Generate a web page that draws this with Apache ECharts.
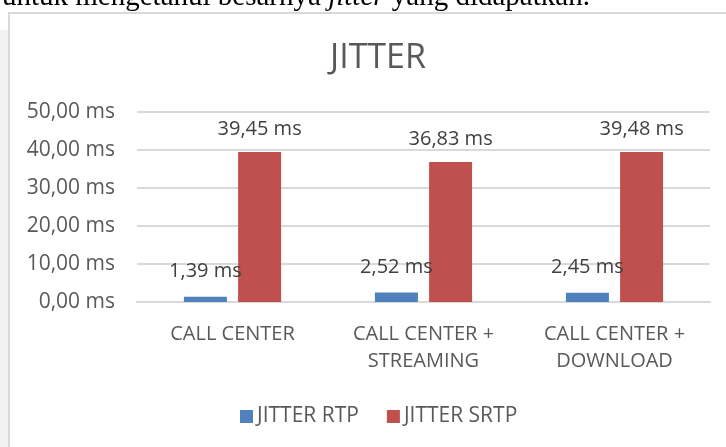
<!DOCTYPE html>
<html>
<head>
<meta charset="UTF-8">
<title>JITTER</title>
<script src="https://cdn.jsdelivr.net/npm/echarts@6/dist/echarts.min.js"></script>
<style>
  html, body { margin: 0; padding: 0; background: #fff; }
  #main { width: 726px; height: 447px; }
</style>
</head>
<body>
<div id="main"></div>
<script type="text/javascript">
    // data
    var categories = ['CALL CENTER', 'CALL CENTER +\nSTREAMING', 'CALL CENTER +\nDOWNLOAD'];
    var jitterRtp = [1.39, 2.52, 2.45];
    var jitterSrtp = [39.45, 36.83, 39.48];
    var seriesNames = ['JITTER RTP', 'JITTER SRTP'];

    var font = '"Open Sans", "Liberation Sans", sans-serif';
    var txt = '#595959';

    function ms(v) {
        return v.toFixed(2).replace('.', ',') + ' ms';
    }

    var myChart = echarts.init(document.getElementById('main'));
    var option = {
        animation: false,
        backgroundColor: '#fff',
        color: ['#4f81bd', '#c0504d'],
        title: {
            text: 'JITTER',
            left: 325,
            top: 36,
            textStyle: { color: txt, fontFamily: font, fontSize: 34, fontWeight: 'normal' }
        },
        graphic: [
            // page strip + chart frame
            { type: 'rect', shape: { x: 0, y: 30, width: 8, height: 420 }, style: { fill: '#f2f2f2' }, z: -1 },
            { type: 'rect', shape: { x: 9, y: 13, width: 730, height: 450 }, style: { fill: 'none', stroke: '#d9d9d9', lineWidth: 2 }, z: -1 },
            // document text cut at top
            {
                type: 'text', left: 2, top: -17,
                style: {
                    text: '{n|untuk mengetahui besarnya }{i|jitter}{n| yang didapatkan.}',
                    rich: {
                        n: { fontFamily: '"Liberation Serif", serif', fontSize: 29, fill: '#000' },
                        i: { fontFamily: '"Liberation Serif", serif', fontSize: 29, fontStyle: 'italic', fill: '#000' }
                    }
                }
            }
        ],
        legend: {
            data: seriesNames,
            top: 401,
            left: 235,
            itemWidth: 13,
            itemHeight: 13,
            itemGap: 28,
            icon: 'rect',
            textStyle: { color: txt, fontFamily: font, fontSize: 21, padding: [0, 0, 0, -1] }
        },
        grid: { left: 137, right: 16, top: 112, bottom: 145 },
        xAxis: {
            type: 'category',
            data: categories,
            axisTick: { show: false },
            axisLine: { lineStyle: { color: '#d9d9d9', width: 2 } },
            axisLabel: { color: txt, fontFamily: font, fontSize: 20, margin: 19, lineHeight: 27 }
        },
        yAxis: {
            type: 'value',
            min: 0,
            max: 50,
            interval: 10,
            axisLine: { show: false },
            axisTick: { show: false },
            splitLine: { lineStyle: { color: '#d9d9d9', width: 2 } },
            axisLabel: { color: txt, fontFamily: font, fontSize: 21, margin: 22, formatter: ms }
        },
        series: [
            {
                name: seriesNames[0],
                type: 'bar',
                data: jitterRtp,
                barWidth: 43,
                barGap: '26%',
                label: { show: true, position: 'top', distance: 15, color: '#404040', fontFamily: font, fontSize: 20, formatter: function (p) { return ms(p.value); } }
            },
            {
                name: seriesNames[1],
                type: 'bar',
                data: jitterSrtp,
                barWidth: 43,
                label: { show: true, position: 'top', distance: 13, color: '#404040', fontFamily: font, fontSize: 20, formatter: function (p) { return ms(p.value); } }
            }
        ]
    };
    myChart.setOption(option);
</script>
</body>
</html>
